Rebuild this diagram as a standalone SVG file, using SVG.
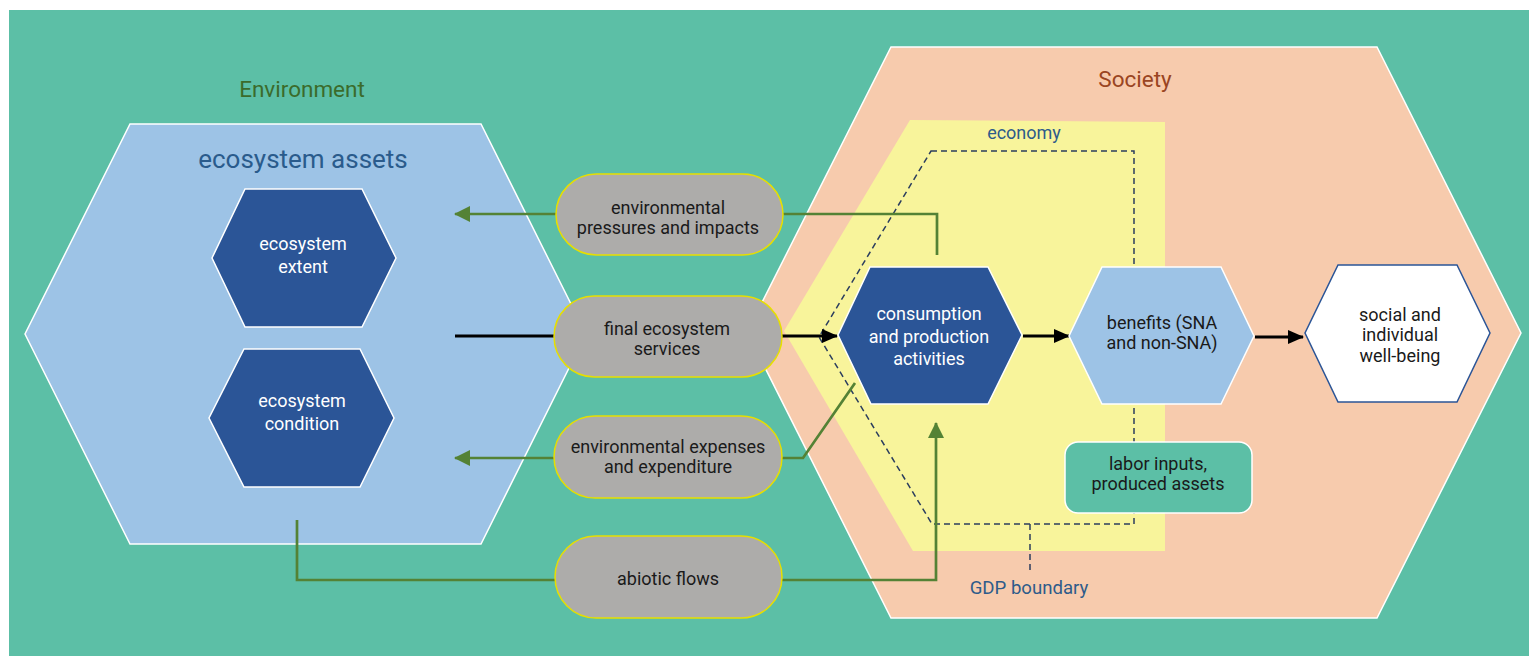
<svg xmlns="http://www.w3.org/2000/svg" width="1529" height="656" viewBox="0 0 1529 656">
<defs>
<style>
text{font-family:Roboto,"Liberation Sans",sans-serif;text-anchor:middle}
.t{font-size:18px;fill:#1a1a1a}
.tw{font-size:18px;fill:#ffffff}
.pill{fill:#adacaa;stroke:#e6df00;stroke-width:1.5}
.dk{fill:#2b5597;stroke:#ffffff;stroke-width:1.5}
.gl{fill:none;stroke:#548235;stroke-width:2.7}
.bl{fill:none;stroke:#000000;stroke-width:3}
.dash{fill:none;stroke:#2b3d5e;stroke-width:1.5;stroke-dasharray:6 4}
.lbl{font-size:18px;fill:#2e5b8a}
</style>
<marker id="ag" viewBox="0 0 16 16" refX="15" refY="8" markerWidth="16" markerHeight="16" markerUnits="userSpaceOnUse" orient="auto">
<path d="M0,0 L16,8 L0,16 Z" fill="#548235"/>
</marker>
<marker id="ab" viewBox="0 0 16 14" refX="15" refY="7" markerWidth="16" markerHeight="14" markerUnits="userSpaceOnUse" orient="auto">
<path d="M0,0 L16,7 L0,14 Z" fill="#000000"/>
</marker>
</defs>
<rect x="9" y="10" width="1520" height="646" fill="#5cbfa6"/>

<g id="environment">
<polygon points="130,124 481,124 586,334 481,544 130,544 25,334" fill="#9dc3e6" stroke="#ffffff" stroke-width="1.5"/>
<text x="302" y="97" style="font-size:22.5px;fill:#3b6b2b">Environment</text>
<text x="303" y="168" style="font-size:26px;fill:#2a5b8c">ecosystem assets</text>
</g>

<g id="society">
<polygon points="891,47 1377,47 1521,333 1377,618 891,618 747,332" fill="#f7cbad" stroke="#ffffff" stroke-width="1.5"/>
<text x="1135" y="87" style="font-size:22.5px;fill:#9a4522">Society</text>
</g>

<g id="economy">
<polygon points="910,120 1165,122 1165,551 913,551 784,331" fill="#f8f49b"/>
<text x="1024" y="139" class="lbl">economy</text>
</g>

<g id="gdp-boundary">
<polygon points="931,151 1134,151 1134,524 932,524 819,337" class="dash"/>
<line x1="1030" y1="524" x2="1030" y2="572" class="dash"/>
<text x="1029" y="594" class="lbl" style="font-size:18.6px">GDP boundary</text>
</g>

<g id="connectors">
<polyline points="783,214 937,214 937,255" class="gl"/>
<line x1="556" y1="214" x2="455" y2="214" class="gl" marker-end="url(#ag)"/>
<line x1="455" y1="336" x2="554" y2="336" class="bl"/>
<line x1="782" y1="336" x2="837" y2="336" class="bl" marker-end="url(#ab)"/>
<line x1="1023" y1="336" x2="1069" y2="336" class="bl" marker-end="url(#ab)"/>
<line x1="1255" y1="337" x2="1303" y2="337" class="bl" marker-end="url(#ab)"/>
<line x1="554" y1="458" x2="455" y2="458" class="gl" marker-end="url(#ag)"/>
<polyline points="782,458 803,458 855,383" class="gl"/>
<polyline points="297,520 297,580 555,580" class="gl"/>
<polyline points="782,580 936,580 936,423" class="gl" marker-end="url(#ag)"/>
</g>

<g id="ecosystem-extent">
<polygon points="245,189 362,189 396,258 362,327 245,327 212,258" class="dk"/>
<text x="303" y="250" class="tw">ecosystem</text>
<text x="303" y="273" class="tw">extent</text>
</g>

<g id="ecosystem-condition">
<polygon points="244,349 360,349 394,418 360,487 244,487 209,418" class="dk"/>
<text x="302" y="407" class="tw">ecosystem</text>
<text x="302" y="430" class="tw">condition</text>
</g>

<g id="pressures">
<rect x="556" y="174" width="227" height="81" rx="40.5" class="pill"/>
<text x="668" y="214" class="t">environmental</text>
<text x="668" y="234" class="t">pressures and impacts</text>
</g>

<g id="final-services">
<rect x="554" y="296" width="228" height="81" rx="40.5" class="pill"/>
<text x="667" y="335" class="t">final ecosystem</text>
<text x="667" y="355" class="t">services</text>
</g>

<g id="expenses">
<rect x="554" y="416" width="228" height="82" rx="41" class="pill"/>
<text x="668" y="453" class="t">environmental expenses</text>
<text x="668" y="473" class="t">and expenditure</text>
</g>

<g id="abiotic">
<rect x="555" y="536" width="227" height="82" rx="41" class="pill"/>
<text x="668" y="585" class="t">abiotic flows</text>
</g>

<g id="consumption">
<polygon points="870,267 988,267 1022,335 988,404 871,404 838,335" class="dk"/>
<text x="929" y="320" class="tw">consumption</text>
<text x="929" y="343" class="tw">and production</text>
<text x="929" y="365" class="tw">activities</text>
</g>

<g id="benefits">
<polygon points="1102,267 1221,267 1254,336 1221,404 1102,404 1069,336" fill="#9dc3e6" stroke="#ffffff" stroke-width="1.5"/>
<text x="1162" y="329" class="t">benefits (SNA</text>
<text x="1162" y="349" class="t">and non-SNA)</text>
</g>

<g id="well-being">
<polygon points="1338,265 1457,265 1490,333 1457,402 1338,402 1305,333" fill="#ffffff" stroke="#2b5597" stroke-width="1.5"/>
<text x="1400" y="321" class="t">social and</text>
<text x="1400" y="341" class="t">individual</text>
<text x="1400" y="362" class="t">well-being</text>
</g>

<g id="labor">
<rect x="1065" y="442" width="187" height="71" rx="13" fill="#5cbfa6" stroke="#ffffff" stroke-width="1.5"/>
<text x="1158" y="470" class="t">labor inputs,</text>
<text x="1158" y="490" class="t">produced assets</text>
</g>
</svg>
